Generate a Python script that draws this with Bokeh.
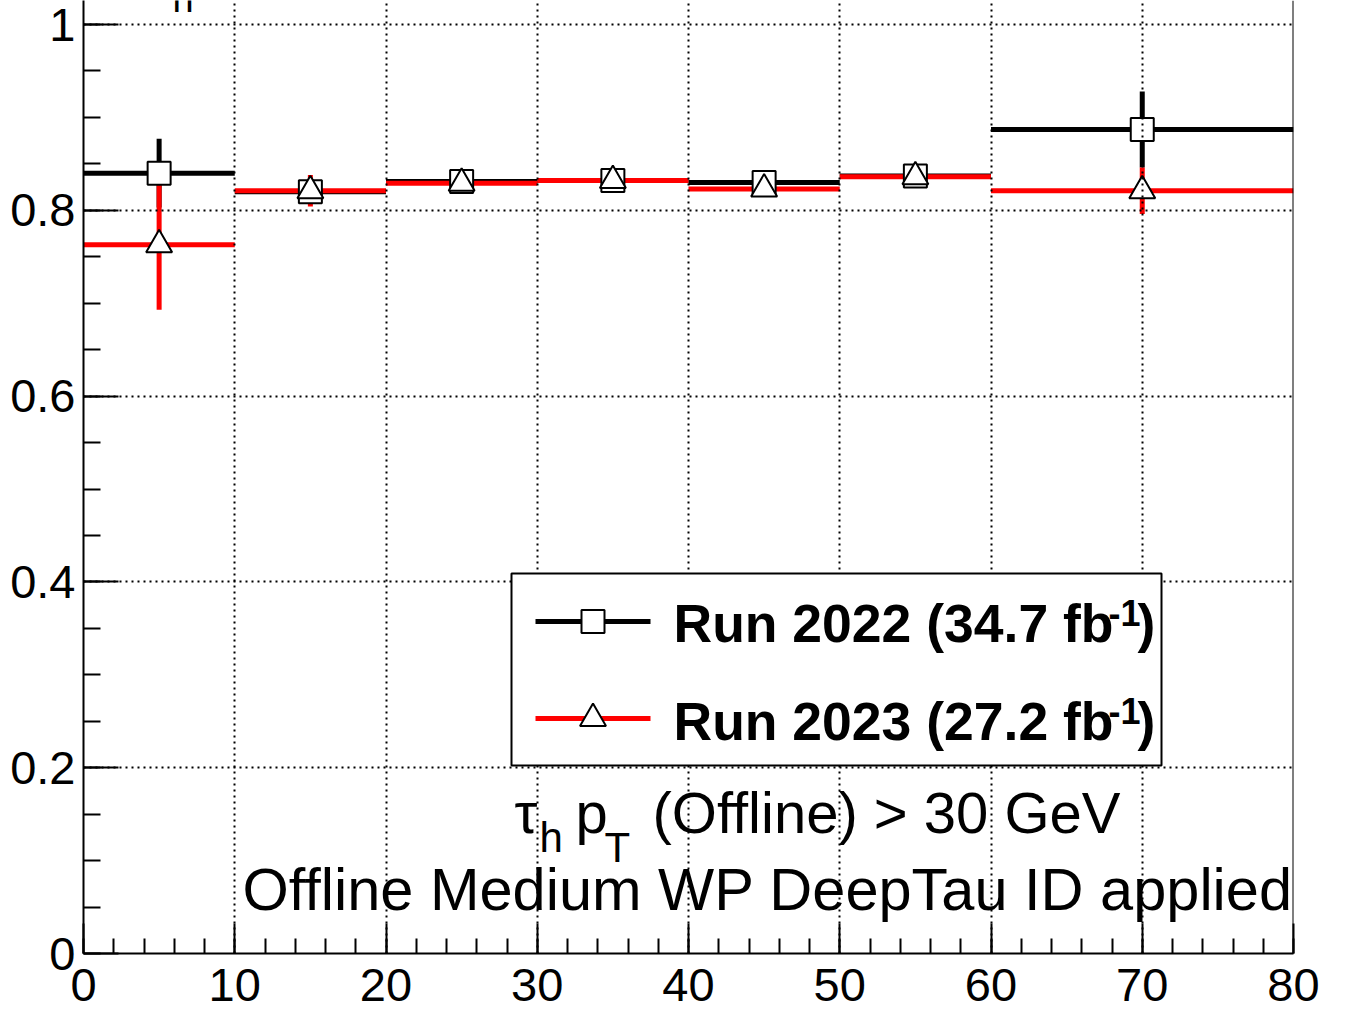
import numpy as np
from bokeh.plotting import figure
from bokeh.models import Range1d, FixedTicker, Span, Label, BoxAnnotation
from bokeh.embed import file_html
from bokeh.resources import INLINE

# ---------------- data ----------------
bin_lo = [0, 10, 20, 30, 40, 50, 60]
bin_hi = [10, 20, 30, 40, 50, 60, 80]
bin_center = [5, 15, 25, 35, 45, 55, 70]
eff_2022 = [0.840, 0.820, 0.831, 0.832, 0.830, 0.837, 0.887]
err_2022 = [0.037, 0.010, 0.006, 0.006, 0.006, 0.006, 0.041]
eff_2023 = [0.763, 0.821, 0.829, 0.832, 0.823, 0.836, 0.821]
err_2023 = [0.070, 0.017, 0.006, 0.006, 0.007, 0.006, 0.025]

x_ticks = [0, 10, 20, 30, 40, 50, 60, 70, 80]
x_tick_labels = ["0", "10", "20", "30", "40", "50", "60", "70", "80"]
y_ticks = [0.0, 0.2, 0.4, 0.6, 0.8, 1.0]
y_tick_labels = ["0", "0.2", "0.4", "0.6", "0.8", "1"]

label_2022 = "Run 2022 (34.7 fb"
label_2023 = "Run 2023 (27.2 fb"
lumi_sup = "-1"
cut_text = "(Offline) > 30 GeV"
id_text = "Offline Medium WP DeepTau ID applied"

# ---------------- layout helpers (pixel -> data for annotations) ----------------
FL, FR, FB = 83.0, 1293.0, 953.0   # frame left/right/bottom in page pixels
XMAX = 80.0
PX_PER_Y = 929.0
YTOP = FB / PX_PER_Y


def px2x(px):
    return (px - FL) * XMAX / (FR - FL)


def py2y(py):
    return (FB - py) / PX_PER_Y


FONT = "Liberation Sans"

p = figure(frame_width=1210, frame_height=953,
           min_border_left=83, min_border_right=40, min_border_top=0, min_border_bottom=55,
           x_range=Range1d(0, XMAX), y_range=Range1d(0, YTOP),
           output_backend="svg", toolbar_location=None,
           background_fill_color="white", border_fill_color="white")
p.outline_line_color = None

# axes
p.xaxis.ticker = FixedTicker(ticks=x_ticks, minor_ticks=list(np.arange(0, 80.1, 2)))
p.yaxis.ticker = FixedTicker(ticks=y_ticks, minor_ticks=list(np.round(np.arange(0, 1.0001, 0.05), 3)))
p.xaxis.major_label_overrides = {t: l for t, l in zip(x_ticks, x_tick_labels)}
p.yaxis.major_label_overrides = {t: l for t, l in zip(y_ticks, y_tick_labels)}
for ax in (p.xaxis, p.yaxis):
    ax.axis_line_width = 2
    ax.axis_line_color = "black"
    ax.major_tick_out = 0
    ax.minor_tick_out = 0
    ax.major_tick_line_width = 2
    ax.minor_tick_line_width = 2
    ax.major_tick_line_color = "black"
    ax.minor_tick_line_color = "black"
    ax.major_label_text_font = FONT
    ax.major_label_text_font_size = "47px"
    ax.major_label_text_color = "black"
p.xaxis.major_tick_in = 30
p.xaxis.minor_tick_in = 15
p.yaxis.major_tick_in = 35
p.yaxis.minor_tick_in = 17
p.xaxis.major_label_standoff = 15
p.yaxis.major_label_standoff = 8

# grid on top of data (ROOT style dotted)
for g in (p.xgrid, p.ygrid):
    g.grid_line_color = "black"
    g.grid_line_dash = "2 4"
    g.grid_line_width = 2
    g.level = "guide"

# right frame edge
p.add_layout(Span(location=XMAX, dimension="height", line_color="black", line_width=2))

# ---------------- data glyphs ----------------
lo22 = [v - e for v, e in zip(eff_2022, err_2022)]
hi22 = [v + e for v, e in zip(eff_2022, err_2022)]
lo23 = [v - e for v, e in zip(eff_2023, err_2023)]
hi23 = [v + e for v, e in zip(eff_2023, err_2023)]

p.segment(x0=bin_lo, x1=bin_hi, y0=eff_2022, y1=eff_2022, line_color="black", line_width=5)
p.segment(x0=bin_center, x1=bin_center, y0=lo22, y1=hi22, line_color="black", line_width=5)
p.segment(x0=bin_lo, x1=bin_hi, y0=eff_2023, y1=eff_2023, line_color="red", line_width=5)
p.segment(x0=bin_center, x1=bin_center, y0=lo23, y1=hi23, line_color="red", line_width=5)
p.scatter(bin_center, eff_2022, marker="square", size=23, fill_color="white",
          line_color="black", line_width=2)
p.scatter(bin_center, eff_2023, marker="triangle", size=26, fill_color="white",
          line_color="black", line_width=2)

# ---------------- texts inside the frame (under the grid) ----------------
def add_text(px, py, text, size, bold=False, level="glyph"):
    # py is the desired baseline in page pixels; compensate the renderer's baseline shift
    lab = Label(x=px2x(px), y=py2y(py - 0.36 * size), text=text, text_font=FONT,
                text_font_size=f"{size}px", text_color="black",
                text_font_style="bold" if bold else "normal",
                text_baseline="alphabetic", text_align="left", level=level)
    p.add_layout(lab)


add_text(514, 833, "τ", 58)
add_text(539, 852, "h", 42)
add_text(575, 833, "p", 58)
add_text(604, 862, "T", 42)
add_text(652, 833, cut_text, 58)
add_text(242, 910, id_text, 59.5)
add_text(172, 12, "h", 38)

# ---------------- legend (drawn over the grid) ----------------
p.add_layout(BoxAnnotation(left=px2x(511), right=px2x(1161), top=py2y(573), bottom=py2y(765),
                           fill_color="white", fill_alpha=1.0, line_color="black",
                           line_alpha=1.0, line_width=2, level="annotation"))
leg_x = [px2x(535), px2x(650)]
leg_mx = px2x(592.5)
p.line(leg_x, [py2y(621)] * 2, line_color="black", line_width=5, level="overlay")
p.scatter([leg_mx], [py2y(621)], marker="square", size=23, fill_color="white",
          line_color="black", line_width=2, level="overlay")
p.line(leg_x, [py2y(718)] * 2, line_color="red", line_width=5, level="overlay")
p.scatter([leg_mx], [py2y(718)], marker="triangle", size=26, fill_color="white",
          line_color="black", line_width=2, level="overlay")

for row_py, txt in ((642, label_2022), (740, label_2023)):
    add_text(673, row_py, txt, 53.5, bold=True, level="overlay")
    add_text(1108, row_py - 17, lumi_sup, 36, bold=True, level="overlay")
    add_text(1137, row_py, ")", 53.5, bold=True, level="overlay")

open("out.html", "w").write(file_html(p, INLINE))
